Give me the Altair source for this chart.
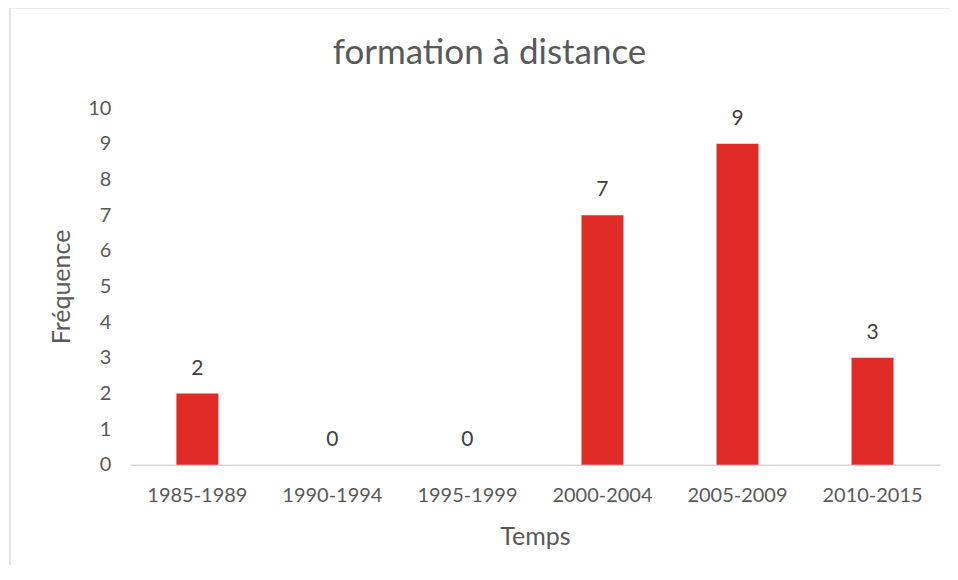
import altair as alt
import pandas as pd

categories = ["1985-1989", "1990-1994", "1995-1999", "2000-2004", "2005-2009", "2010-2015"]
values = [2, 0, 0, 7, 9, 3]
title_text = ["formation à distance"]

df = pd.DataFrame({"periode": categories, "freq": values})

FONT = "Lato"
GREY = "#595959"

base = alt.Chart(df)

x_enc = alt.X("periode:N", sort=categories,
              scale=alt.Scale(paddingInner=0.69, paddingOuter=0.345),
              axis=alt.Axis(title="Temps", labelAngle=0, ticks=False, domainColor="#D9D9D9",
                            domainWidth=1.5, labelPadding=21, labelFontSize=20, labelColor=GREY,
                            titleFontSize=25, titleColor=GREY, titleFontWeight="normal",
                            titlePadding=19, labelFont=FONT, titleFont=FONT))
y_enc = alt.Y("freq:Q", scale=alt.Scale(domain=[0, 10]),
              axis=alt.Axis(title="Fréquence", values=list(range(11)), grid=False, domain=False,
                            ticks=False, labelPadding=19, labelFontSize=20, labelColor=GREY,
                            labelOverlap=False,
                            titleFontSize=25, titleColor=GREY, titleFontWeight="normal",
                            titlePadding=13, labelFont=FONT, titleFont=FONT))

bars = base.mark_bar(color="#E02B27", size=42).encode(x=x_enc, y=y_enc)
labels = base.mark_text(dy=-25, fontSize=21, color="#404040", font=FONT).encode(
    x=x_enc, y=y_enc, text="freq:Q")

frame_data = alt.Data(values=[{"a": 1}])
left_border = alt.Chart(frame_data).mark_rule(color="#D9D9D9", strokeWidth=1.5).encode(
    x=alt.value(-120), y=alt.value(-100.5), y2=alt.value(480))
top_border = alt.Chart(frame_data).mark_rule(color="#D9D9D9", strokeWidth=1.5).encode(
    x=alt.value(-120), x2=alt.value(840), y=alt.value(-100.5))
title = alt.Chart(pd.DataFrame({"t": title_text})).mark_text(
    fontSize=35, font=FONT, color=GREY, baseline="middle", align="center").encode(
    x=alt.value(360), y=alt.value(-55), text="t:N")

chart = alt.layer(bars, labels, left_border, top_border, title).properties(
    width=811, height=357,
    autosize=alt.AutoSizeParams(type="none"),
    padding={"left": 122, "top": 100, "right": 10, "bottom": 100},
).configure_view(stroke=None)

chart.save("out.html", embed_options={"renderer": "svg", "actions": False})
